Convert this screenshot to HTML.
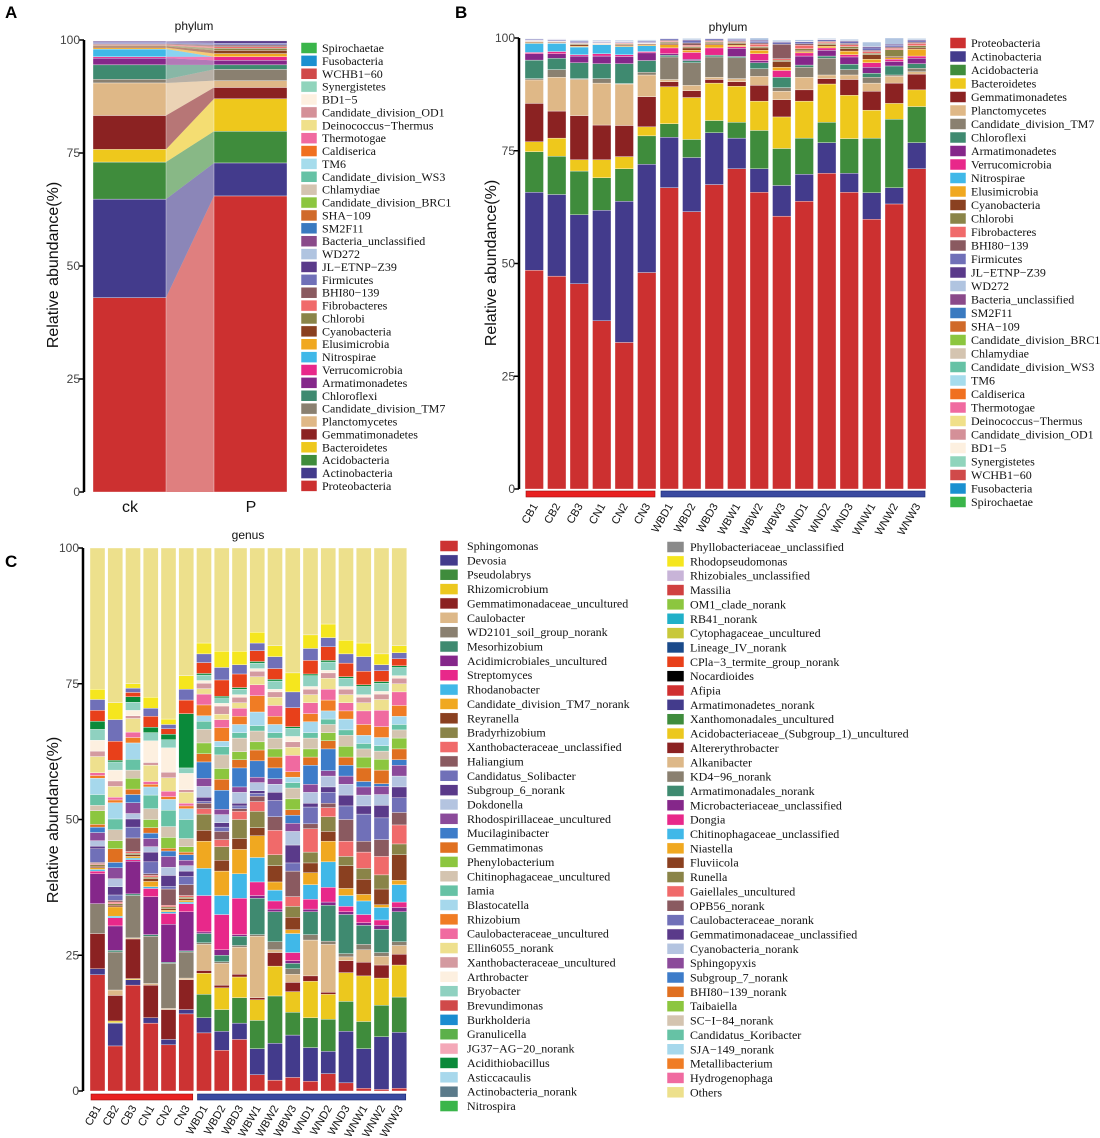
<!DOCTYPE html>
<html><head><meta charset="utf-8"><style>
html,body{margin:0;padding:0;background:#fff;}
svg{display:block;}
.tick{font-family:"Liberation Sans",sans-serif;font-size:12px;fill:#444;}
.lg{font-family:"Liberation Serif",serif;font-size:12px;fill:#111;}
.ttl{font-family:"Liberation Sans",sans-serif;font-size:12px;fill:#111;}
.yt{font-family:"Liberation Sans",sans-serif;font-size:16px;fill:#111;}
.pl{font-family:"Liberation Sans",sans-serif;font-size:17px;font-weight:bold;fill:#000;}
.xl{font-family:"Liberation Sans",sans-serif;font-size:11px;fill:#111;}
</style></head><body>
<svg id="fig" width="1100" height="1138" viewBox="0 0 1100 1138" xmlns="http://www.w3.org/2000/svg">
<text class="pl" x="5" y="18">A</text>
<text class="pl" x="455" y="18">B</text>
<text class="pl" x="5" y="567">C</text>
<text class="ttl" x="194" y="30" text-anchor="middle">phylum</text>
<text class="ttl" x="728" y="31" text-anchor="middle">phylum</text>
<text class="ttl" x="248" y="539" text-anchor="middle">genus</text>
<text class="yt" transform="translate(58,265) rotate(-90)" text-anchor="middle">Relative abundance(%)</text>
<text class="yt" transform="translate(496,263) rotate(-90)" text-anchor="middle">Relative abundance(%)</text>
<text class="yt" transform="translate(58,820) rotate(-90)" text-anchor="middle">Relative abundance(%)</text>
<text class="yt" x="130" y="512" text-anchor="middle">ck</text>
<text class="yt" x="251" y="512" text-anchor="middle">P</text>
<g id="gA"></g><g id="gB"></g><g id="gC"></g>
</svg>
<script>
// ---------- data ----------
const yTicks = [0, 25, 50, 75, 100];
const samples = ["CB1","CB2","CB3","CN1","CN2","CN3","WBD1","WBD2","WBD3","WBW1","WBW2","WBW3","WND1","WND2","WND3","WNW1","WNW2","WNW3"];
const groupLabels = ["ck","P"];

const phyla = ["Proteobacteria","Actinobacteria","Acidobacteria","Bacteroidetes","Gemmatimonadetes","Planctomycetes","Candidate_division_TM7","Chloroflexi","Armatimonadetes","Verrucomicrobia","Nitrospirae","Elusimicrobia","Cyanobacteria","Chlorobi","Fibrobacteres","BHI80\u2212139","Firmicutes","JL\u2212ETNP\u2212Z39","WD272","Bacteria_unclassified","SM2F11","SHA\u2212109","Candidate_division_BRC1","Chlamydiae","Candidate_division_WS3","TM6","Caldiserica","Thermotogae","Deinococcus\u2212Thermus","Candidate_division_OD1","BD1\u22125","Synergistetes","WCHB1\u221260","Fusobacteria","Spirochaetae"];
const phylaColors = ["#cc3030","#433b8c","#3f8c3c","#eec81c","#8b2222","#dfb887","#8a8070","#3f8a70","#85278a","#e8288a","#40b8e8","#f0a820","#8a4020","#8a8448","#f06a6a","#8a5a60","#7070b8","#5a3a8a","#b0c4e0","#8a4a8a","#3a7ac0","#d06a2a","#8cc63f","#d4c4b0","#66c2a5","#a6dcec","#f07020","#f06aa0","#f0e08a","#d49098","#fdf0e0","#90d4bc","#d04a4a","#1a90d0","#3ab54a"];

// Panel A group means (segment sizes, bottom to top)
const phylumCk = [43,21.8,8.2,2.8,7.5,7.2,0.8,3.2,1.5,0.3,1.7,0.3,0.3,0.2,0.2,0.2,0.3,0.2];
const phylumP  = [65.5,7.3,7,7.2,2.5,1.5,2.5,1,1,0.8,0,0.7,0.7,0.5,0.3,0.4,0.4,0.5];

// Panel B phylum per sample
const proteobacteria = [48.5,47.2,45.5,37.3,32.5,48,66.8,61.5,67.5,71,65.8,60.5,63.8,70,65.8,59.8,63.2,71];
const actinobacteria = [17.3,18.1,15.3,24.5,31.3,24,11.2,12,11.5,6.8,5.2,6.8,6,6.8,4.2,5.9,3.6,5.8];
const acidobacteria = [9,8.5,9.7,7.2,7.2,6.3,3,4,2.7,3.5,8.5,8.2,8,4.5,7.7,12.1,15.2,8];
const bacteroidetes = [2.2,4,2.5,4,2.7,2,8.2,9.3,8.3,8,6.5,7,8.2,8.5,9.6,6.2,3.5,3.7];
const gemmatimonadetes = [8.5,6,9.8,7.7,6.9,6.7,1.1,1.5,0.8,1,3.5,3.8,2.5,1.2,3.5,4.2,4.5,3.5];
const planctomycetes = [5.2,7.5,8,9.3,9.2,4.8,0.5,1.2,0.5,0.7,2,1.9,2.8,0.8,1,1.8,1.5,0.5];
const tm7 = [0.3,1.7,0.2,1,0.1,0.6,5,5,4.5,4.6,1.7,0.8,2.2,3.7,1.2,1.3,0.3,0.8];
const chloroflexi = [4.1,2.5,3.5,3.3,4.4,2.6,0.4,0.5,0.4,0.3,1.3,2.3,0.5,0.5,1.2,0.9,2,1];
const armatimonadetes = [1.4,1,1.5,1.7,1.6,1.7,0.3,0.3,0,1.8,0.5,0,2,1.3,1.6,1.3,1,1.2];
const verrucomicrobia = [0.3,0.5,0.3,0.5,0.4,0.3,1.3,1.5,1.6,0.4,1.5,1.5,0.7,0.5,0.5,1,0.5,0.5];
const nitrospirae = [2,1.8,1.7,2,1.8,1.3,0,0,0,0,0,0,0,0,0,0,0,0];
const elusimicrobia = [0.2,0.1,0.2,0.1,0.2,0.2,0.7,0.5,0.7,0.3,0.8,0.7,0.3,0.4,0.8,0.8,0.3,1.5];
const cyanobacteria = [0.2,0.2,0.3,0.1,0.2,0.2,0.3,0.5,0.3,0.3,0.5,1.3,0.3,0.3,0.5,1,0.3,0.3];
const chlorobi = [0.1,0.1,0.2,0.1,0.2,0.1,0.3,0.3,0.3,0.3,0.3,0.3,0.3,0.3,0.5,0.3,1.5,0.5];
const fibrobacteres = [0.1,0.1,0.1,0.1,0.2,0.1,0.2,0.3,0.2,0.2,0.5,0.3,0.8,0.3,0.4,0.4,0.3,0.5];
const bhi80 = [0.1,0.1,0.2,0.1,0.1,0.1,0.2,0.5,0.2,0.2,0.3,3.2,0.3,0.2,0.3,0.3,0.3,0.3];
const firmicutes = [0.2,0.2,0.3,0.2,0.2,0.3,0.3,0.5,0.3,0.3,0.4,0.4,0.5,0.3,0.4,0.5,0.4,0.3];
const jlEtnp = [0.1,0.1,0.1,0.1,0.1,0.1,0.1,0.2,0.1,0.1,0.2,0.2,0.1,0.1,0.2,0.3,0.2,0.2];
const wd272 = [0.1,0.1,0.2,0.2,0.2,0.2,0.2,0.3,0.2,0.2,0.5,0.3,0.3,0.2,0.3,1,1.5,0.3];
const phylumSeries = [proteobacteria,actinobacteria,acidobacteria,bacteroidetes,gemmatimonadetes,planctomycetes,tm7,chloroflexi,armatimonadetes,verrucomicrobia,nitrospirae,elusimicrobia,cyanobacteria,chlorobi,fibrobacteres,bhi80,firmicutes,jlEtnp,wd272];

// Panel C genus per sample (major genera)
const sphingomonas = [21.4,8.3,19.5,12.5,8.5,14.2,10.7,7.5,9.5,3,2,2.5,1.8,3.2,1.5,0.5,0.3,0.5];
const devosia = [1.1,4.2,1,1,1,0.8,2.8,3.5,3,4.8,6.8,7.8,6.2,4.1,9.5,7.3,9.7,10.3];
const pseudolabrys = [0,0.1,0,0,0,0,4.3,4,4.7,5.2,8.7,4.2,5.5,5.9,5.5,5,5.8,6.5];
const rhizomicrobium = [0,0.3,0.2,0,0,0,3.9,4,3.8,3.8,5.5,3.8,6.7,4.6,5.3,8.4,5,5.9];
const gemmatimonadaceaeUnc = [6.5,4.7,7.3,6,5.5,5.5,0.5,0.5,0.5,0.4,2.5,1.7,1,0.4,2.2,2.5,2.4,2];
const caulobacter = [0,1,0.2,0.3,0.2,0.3,4.8,4,5,11.3,0.5,1.5,6.6,8.8,0.7,2.3,1.6,1.6];
const wd2101 = [5.5,7,7.8,8.7,8.3,4.8,0.3,0.3,0.3,0.3,1.5,1,1,0.6,0.6,1,0.7,0.7];
const mesorhizobium = [0,0.3,0.3,0.3,0.2,0.2,1.7,1.2,1.7,6.7,5.5,1,4.2,6.6,7.2,3.5,4.3,5.5];
const acidimicrobiales = [5.5,4.5,6,7,7,7.2,0.3,1,0.3,0.5,0.5,0.5,0.5,0.6,0.5,0.5,0.7,0.8];
const streptomyces = [0.5,1.5,0.3,1.5,2,1.5,6.7,6.5,6.7,2.5,1.5,1.5,1.8,2.7,1,1.5,1,1];
const rhodanobacter = [0.3,0.3,0.3,0.3,0.3,0.3,5,3.5,4.5,4.5,2,3.5,2.7,4.7,2,2.5,2.3,3.2];
const tm7Norank = [0.3,1.7,0.3,1,0.3,0.3,5,4.5,4.5,4,1.5,0.7,2.2,3.8,1.3,1.2,0.5,0.8];
const reyranella = [0.3,0.3,0.3,0.5,0.3,0.3,2,2,2,1.5,3,2.3,1.8,1.8,4.2,2.8,2.9,4.7];
const bradyrhizobium = [0.3,0.3,0.3,0.3,0.3,0.3,3,2.5,3.5,3,2,2,2,2.7,1.7,2,2.6,2];
const xanthobacteraceaeUncl = [0.2,0.3,0.3,0.3,0.3,0.3,1,1.3,1.5,1.8,4.5,1.8,4.3,1.7,2.8,3,3.4,3.5];
const haliangium = [0.2,0.3,2.5,0.3,3,2,1,1.5,0.5,1,2.5,4.7,0.9,0.8,4,2,3.1,2.3];
const solibacter = [2.5,1,2,2.2,0.5,1.5,0.3,0.8,0.5,0.5,3,1.5,3.1,2,2.5,5,4,2.7];
const subgroup6 = [0.5,1.5,1.5,1.8,2,1,0.8,0.8,0.5,0.5,1.5,3.3,0.7,1,2,1.5,2.3,2];
const genusMajor = [sphingomonas,devosia,pseudolabrys,rhizomicrobium,gemmatimonadaceaeUnc,caulobacter,wd2101,mesorhizobium,acidimicrobiales,streptomyces,rhodanobacter,tm7Norank,reyranella,bradyrhizobium,xanthobacteraceaeUncl,haliangium,solibacter,subgroup6];
// minor genera per sample (Dokdonella .. Bryobacter, Acidithiobacillus, then three remaining minor groups)
const genusMinorRows = [
 [1,1.5,1,0.5,2.5,1,2,3,0.5,0.5,3,1,2,2,1.5,2,2,1.9],
 [1.5,2,1,2.5,1.5,2,2,3,0.5,0.5,2,1,2,1.5,0.3,3.5,4,3.1],
 [1,2,1.5,1,2,1.5,2,3,1,1,2.5,0.5,1,1.5,1,0.8,0.8,0.8],
 [1,1.5,1,1,1.5,2,2.5,1.5,0.5,0.5,3,0.5,4,1.5,1,2,1.5,2],
 [1.5,2,1,0.5,2,2,3,2,0.5,1,2.5,1,4.5,1.5,1,1,0.8,1],
 [1,1,1,0.5,1,1.5,3.5,2,0.5,0.5,2,0.5,3,1,10,2.5,2,2.5],
 [2,1.5,3,1.5,2,2.5,1.5,1,2,2,1,1,0.5,1,0.3,2,1.6,2],
 [1.5,1,3.5,2,2,2.5,1.5,1,2.5,1.5,1,1.5,0.5,1,0.3,3,2.3,3],
 [2,1,3.5,1.5,1.5,2.5,1,1.5,1.5,1.5,1,1,0.5,1,0.3,2.5,1.7,2.5],
 [1.5,1,3,2,1.5,2,1,2.5,3,2,1.5,1,0.5,1,0.3,2,1.4,2],
 [1.5,1,2,2,1.5,2,1,1.5,1.5,2,1.5,1,0.5,1.5,0.3,2,2.2,2],
 [2.5,1.5,1.5,1,2,2,1,1,1,3,1.5,1,1,1.5,0.3,3.5,2.9,3.5],
 [2,1.5,3.5,1.5,1.5,2,1,2,1.5,2,1.5,1,0.5,2,0.3,2.5,2.2,2.5],
 [2,1,4,1.5,1.5,1.5,1,1.5,2,2,2,1,0.5,1.5,0.3,2.5,1.7,2.5],
 [2,1.5,2,1.5,2,2,1,2,1.5,1.5,1.5,1,0.5,1.5,0.3,2.5,1.7,2.5],
 [2,1.5,1,2.5,2,1.5,1,1.5,2,2.5,1.5,1,0.5,1.5,0.3,2.5,2.7,2.5],
 [2,1.5,0.5,2.5,2,1.5,1,1.5,2,3,2,1,0.5,1.5,0.3,2,1.1,2],
 [2,2,1,2,2,1.5,1,1.5,2,2.5,1.5,1,0.5,1.5,0.3,1.3,1.1,1.3]
];
const others = [26,28.5,25,27.5,31.5,23.5,17.5,19,19,15.5,18,23,16,14,17,17.5,19.5,18];

const genusCol1 = ["Sphingomonas","Devosia","Pseudolabrys","Rhizomicrobium","Gemmatimonadaceae_uncultured","Caulobacter","WD2101_soil_group_norank","Mesorhizobium","Acidimicrobiales_uncultured","Streptomyces","Rhodanobacter","Candidate_division_TM7_norank","Reyranella","Bradyrhizobium","Xanthobacteraceae_unclassified","Haliangium","Candidatus_Solibacter","Subgroup_6_norank","Dokdonella","Rhodospirillaceae_uncultured","Mucilaginibacter","Gemmatimonas","Phenylobacterium","Chitinophagaceae_uncultured","Iamia","Blastocatella","Rhizobium","Caulobacteraceae_uncultured","Ellin6055_norank","Xanthobacteraceae_uncultured","Arthrobacter","Bryobacter","Brevundimonas","Burkholderia","Granulicella","JG37\u2212AG\u221220_norank","Acidithiobacillus","Asticcacaulis","Actinobacteria_norank","Nitrospira"];
const genusCol1Colors = ["#cc3333","#433b8c","#3f8c3c","#ecc81e","#8b2222","#ddb888","#8a8070","#3f8a70","#85278a","#e8288a","#40b8e8","#f0a820","#8a4020","#8a8448","#f06a6a","#8a5a60","#7070b8","#5a3a8a","#b4c4e0","#8b4a9a","#3d7cc9","#e07020","#8cc63f","#d4c4b0","#66c2a5","#a6d8ec","#f07c24","#f06aa0","#eee08e","#d49aa0","#fdf0e0","#8fd1c0","#d04a4a","#1a8cd0","#5cb04a","#f4a8b8","#0a8a3a","#a8d8ec","#5a7a8a","#3ab54a"];
const genusCol2 = ["Phyllobacteriaceae_unclassified","Rhodopseudomonas","Rhizobiales_unclassified","Massilia","OM1_clade_norank","RB41_norank","Cytophagaceae_uncultured","Lineage_IV_norank","CPla\u22123_termite_group_norank","Nocardioides","Afipia","Armatimonadetes_norank","Xanthomonadales_uncultured","Acidobacteriaceae_(Subgroup_1)_uncultured","Altererythrobacter","Alkanibacter","KD4\u221296_norank","Armatimonadales_norank","Microbacteriaceae_unclassified","Dongia","Chitinophagaceae_unclassified","Niastella","Fluviicola","Runella","Gaiellales_uncultured","OPB56_norank","Caulobacteraceae_norank","Gemmatimonadaceae_unclassified","Cyanobacteria_norank","Sphingopyxis","Subgroup_7_norank","BHI80\u2212139_norank","Taibaiella","SC\u2212I\u221284_norank","Candidatus_Koribacter","SJA\u2212149_norank","Metallibacterium","Hydrogenophaga","Others"];
const genusCol2Colors = ["#8a8a8a","#f5e61e","#c8b4d8","#d04040","#8cc63f","#20b0c8","#c8c83a","#1a4a8a","#e8401a","#000000","#d03030","#433b8c","#3f8c3c","#ecc81e","#8b2222","#ddb888","#8a8070","#3f8a70","#85278a","#e8288a","#40b8e8","#f0a820","#8a4020","#8a8448","#f06a6a","#8a5a60","#7070b8","#5a3a8a","#b4c4e0","#8b4a9a","#3d7cc9","#e07020","#8cc63f","#d4c4b0","#66c2a5","#a6d8ec","#f07c24","#f06aa0","#ede08c"];
const minorColors = ["#b4c4e0","#8b4a9a","#3d7cc9","#e07020","#8cc63f","#d4c4b0","#66c2a5","#a6d8ec","#f07c24","#f06aa0","#eee08e","#d49aa0","#fdf0e0","#8fd1c0","#0a8a3a","#e8401a","#7070b8","#f5e61e"];
const othersColor = "#ede08c";

// ---------- helpers ----------
const NS = "http://www.w3.org/2000/svg";
function mk(tag, attrs, parent) {
  const e = document.createElementNS(NS, tag);
  for (const k in attrs) e.setAttribute(k, attrs[k]);
  parent.appendChild(e);
  return e;
}
function yScale(top, bottom) { return v => bottom - (v / 100) * (bottom - top); }

function drawAxis(g, x, top, bottom, prefix) {
  const y = yScale(top, bottom);
  const ax = mk("line", {x1: x, x2: x, y1: top, y2: bottom, stroke: "#000", "stroke-width": 2.5}, g);
  
  
  yTicks.forEach(t => {
    const tk = mk("line", {x1: x - 5, x2: x, y1: y(t), y2: y(t), stroke: "#000", "stroke-width": 1.5}, g);
    
    
    const tl = mk("text", {x: x - 4, y: y(t) + 4, "text-anchor": "end", class: "tick"}, g);
    tl.textContent = t;
    
    
  });
}

function drawLegend(g, x, y0, step, names, colors, prefix, sw, gap) {
  names.forEach((n, i) => {
    const yy = y0 + i * step;
    const r = mk("rect", {x: x, y: yy - 5.5, width: sw, height: 11, fill: colors[i], stroke: "#fff", "stroke-width": 0.5}, g);
    
    
    const t = mk("text", {x: x + gap, y: yy + 4, class: "lg"}, g);
    t.textContent = n;
    
    
  });
}

function stackBar(g, x, w, y, segs, colors, prefix) {
  let cum = 0;
  segs.forEach((v, i) => {
    if (v <= 0) return;
    const y1 = y(Math.min(cum + v, 100)), y0 = y(cum);
    const r = mk("rect", {x: x, y: y1, width: w, height: Math.max(0, y0 - y1), fill: colors[i], stroke: "#fff", "stroke-width": 0.35}, g);
    
    
    cum += v;
  });
  return cum;
}

function groupBars(g, xs, y, w, prefix) {
  const r1 = mk("rect", {x: xs(0) + 1, y: y, width: xs(5) + w - xs(0) - 2, height: 6, fill: "#e82020", stroke: "#a01010", "stroke-width": 0.6}, g);
  
  
  const r2 = mk("rect", {x: xs(6) + 1, y: y, width: xs(17) + w - xs(6) - 2, height: 6, fill: "#3a4aa0", stroke: "#1a2a70", "stroke-width": 0.6}, g);
  
  
}

function xLabels(g, xs, w, y0, prefix) {
  samples.forEach((s, i) => {
    const cx = xs(i) + w / 2 + 4;
    const t = mk("text", {x: cx, y: y0, "text-anchor": "end", class: "xl", transform: `rotate(-60 ${cx} ${y0})`}, g);
    t.textContent = s;
    
    
  });
}

// ---------- Panel A ----------
(function () {
  const g = document.getElementById("gA");
  const y = yScale(40, 492);
  const ckX = 93, pX = 214, w = 73;
  let c1 = 0, c2 = 0;
  phylumCk.forEach((v, i) => {
    const a0 = c1, a1 = c1 + v, b0 = c2, b1 = c2 + phylumP[i];
    const p = mk("polygon", {points: `${ckX + w},${y(a0)} ${ckX + w},${y(a1)} ${pX},${y(b1)} ${pX},${y(b0)}`, fill: phylaColors[i], "fill-opacity": 0.62, stroke: "none"}, g);
    
    
    c1 = a1; c2 = b1;
  });
  stackBar(g, ckX, w, y, phylumCk, phylaColors, 'bar-ck-segment');
  stackBar(g, pX, w, y, phylumP, phylaColors, 'bar-p-segment');
  drawAxis(g, 84, 40, 492, 'panel-a');
  drawLegend(g, 301, 48, 12.88, phyla.slice().reverse(), phylaColors.slice().reverse(), 'panel-a', 16, 21);
})();

// ---------- Panel B ----------
(function () {
  const g = document.getElementById("gB");
  const y = yScale(38, 489);
  const pitch = 22.5, w = 18.5, x0 = 525;
  const xs = i => x0 + i * pitch;
  samples.forEach((s, i) => {
    const segs = phylumSeries.map(a => a[i]);
    stackBar(g, xs(i), w, y, segs, phylaColors, 'bar-' + s + '-segment');
  });
  drawAxis(g, 519, 38, 489, 'panel-b');
  groupBars(g, xs, 491, w, 'panel-b');
  xLabels(g, xs, w, 506, 'panel-b');
  drawLegend(g, 950, 43, 13.5, phyla, phylaColors, 'panel-b', 16, 21);
})();

// ---------- Panel C ----------
(function () {
  const g = document.getElementById("gC");
  const y = yScale(548, 1091);
  const pitch = 17.75, w = 15, x0 = 90;
  const xs = i => x0 + i * pitch;
  const majorColors = genusCol1Colors.slice(0, 18);
  samples.forEach((s, i) => {
    const segs = genusMajor.map(a => a[i]).concat(genusMinorRows[i]);
    const cols = majorColors.concat(minorColors);
    const cum = stackBar(g, xs(i), w, y, segs, cols, 'bar-' + s + '-segment');
    const top = Math.max(cum, 100 - others[i]);
    const r = mk("rect", {x: xs(i), y: y(100), width: w, height: y(top) - y(100), fill: othersColor, stroke: "#fff", "stroke-width": 0.35}, g);
    
    
  });
  drawAxis(g, 83, 548, 1091, 'panel-c');
  groupBars(g, xs, 1094, w, 'panel-c');
  xLabels(g, xs, w, 1108, 'panel-c');
  drawLegend(g, 440, 546, 14.36, genusCol1, genusCol1Colors, 'panel-c-col1', 18, 27);
  drawLegend(g, 667, 547, 14.35, genusCol2, genusCol2Colors, 'panel-c-col2', 17, 23);
})();
</script>
</body></html>
